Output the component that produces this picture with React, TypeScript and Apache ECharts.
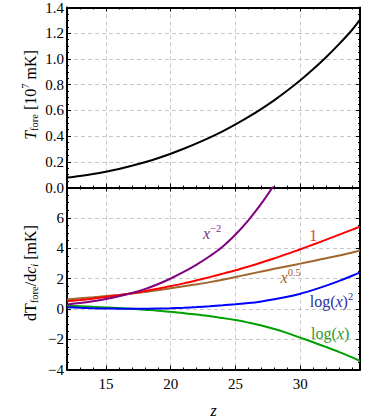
import React, { useEffect, useRef } from 'react';
import * as echarts from 'echarts';

// redshift samples
const Z = [12, 13, 14, 15, 16, 17, 18, 19, 20, 21, 22, 23, 24, 25, 26, 27, 28, 29, 30, 31, 32, 33, 34, 34.6];
// top panel: T_fore [10^7 mK]
const T_FORE = [0.077, 0.09, 0.105, 0.123, 0.144, 0.169, 0.197, 0.228, 0.263, 0.301, 0.343, 0.388, 0.437, 0.491, 0.549, 0.612, 0.68, 0.754, 0.834, 0.921, 1.015, 1.117, 1.227, 1.305];
// bottom panel: dT_fore/dc_i [mK]
const D_XM2 = [0.29, 0.38, 0.5, 0.65, 0.83, 1.04, 1.3, 1.62, 2.0, 2.43, 2.92, 3.47, 4.1, 4.9, 5.85, 6.95, 8.2];
const D_ONE = [0.5, 0.58, 0.67, 0.78, 0.9, 1.03, 1.17, 1.33, 1.5, 1.68, 1.88, 2.09, 2.31, 2.54, 2.79, 3.05, 3.33, 3.62, 3.93, 4.24, 4.56, 4.89, 5.22, 5.42];
const D_X05 = [0.62, 0.69, 0.76, 0.84, 0.92, 1.01, 1.11, 1.23, 1.36, 1.49, 1.62, 1.76, 1.92, 2.1, 2.28, 2.46, 2.64, 2.81, 2.98, 3.16, 3.34, 3.52, 3.72, 3.84];
const D_LOG2 = [0.11, 0.07, 0.04, 0.02, 0.01, 0.005, 0.005, 0.015, 0.035, 0.07, 0.115, 0.17, 0.23, 0.3, 0.38, 0.49, 0.63, 0.8, 1.0, 1.25, 1.53, 1.84, 2.18, 2.4];
const D_LOG = [0.2, 0.17, 0.13, 0.09, 0.05, 0.0, -0.06, -0.12, -0.2, -0.28, -0.37, -0.48, -0.6, -0.74, -0.91, -1.1, -1.33, -1.6, -1.9, -2.2, -2.52, -2.85, -3.2, -3.44];

const X_TICKS = [15, 20, 25, 30];
const X_MIN = 12;
const X_MAX = 34.6;
const TOP_Y = { min: 0, max: 1.4, interval: 0.2 };
const BOT_Y = { min: -4, max: 8, interval: 2 };

// curve label anchors in data coordinates
const LABELS = {
  xm2: [23.2, 4.98],
  one: [31.0, 4.85],
  x05: [29.25, 2.08],
  log2: [32.4, 0.5],
  log: [32.3, -1.6],
};

const FONT = 'Liberation Serif';

const pairs = (ys: number[]) => ys.map((y, i) => [Z[i], y]);

export default function App() {
  const ref = useRef<HTMLDivElement>(null);
  useEffect(() => {
    if (!ref.current) return;
    const chart = echarts.init(ref.current, null, { renderer: 'svg' });

    const splitLine = { show: true, lineStyle: { color: '#c8c8c8', type: [4, 3], width: 1 } };
    const axisLine = { show: true, onZero: false, lineStyle: { color: '#000', width: 2 } };
    const axisTick = { show: true, inside: true, length: 4, lineStyle: { color: '#000', width: 1 } };
    const minorTick = (n: number) => ({ show: true, splitNumber: n, length: 2, lineStyle: { color: '#000', width: 1 } });
    const labelBase = { fontFamily: FONT, fontSize: 15, color: '#000' };

    const xAxisBase = (gridIndex: number, position: string, showLabel: boolean, grid: boolean) => ({
      type: 'value',
      gridIndex,
      position,
      min: X_MIN,
      max: X_MAX,
      splitNumber: 5,
      axisLine,
      axisTick,
      minorTick: minorTick(5),
      splitLine: grid ? splitLine : { show: false },
      axisLabel: showLabel
        ? {
            ...labelBase,
            margin: 7,
            showMinLabel: false,
            showMaxLabel: false,
            formatter: (v: number) => (X_TICKS.includes(v) ? String(v) : ''),
          }
        : { show: false },
    });

    const fmtBot = (v: number) => (v === BOT_Y.max ? '' : v < 0 ? '\u2212' + Math.abs(v) : String(v));

    const yAxisBase = (gridIndex: number, position: string, r: any, showLabel: boolean, grid: boolean, fmt: any) => ({
      type: 'value',
      gridIndex,
      position,
      min: r.min,
      max: r.max,
      interval: r.interval,
      axisLine,
      axisTick,
      minorTick: minorTick(4),
      splitLine: grid ? splitLine : { show: false },
      axisLabel: showLabel ? { ...labelBase, margin: 3, formatter: fmt } : { show: false },
    });

    const rich = (color: string) => ({
      r: { fontFamily: FONT, fontSize: 16, color, lineHeight: 20 },
      i: { fontFamily: FONT, fontSize: 16, fontStyle: 'italic', color, lineHeight: 20 },
      p: { fontFamily: FONT, fontSize: 10.5, color, lineHeight: 10, verticalAlign: 'top' },
    });

    const mp = (coord: number[], text: string, color: string) => ({
      symbol: 'circle',
      symbolSize: 1,
      itemStyle: { color: 'rgba(0,0,0,0)' },
      label: { show: true, position: 'inside', formatter: text, color, rich: rich(color) },
      data: [{ coord }],
    });

    const line = (name: string, data: number[][], color: string, extra: any = {}) => ({
      type: 'line',
      name,
      xAxisIndex: 2,
      yAxisIndex: 2,
      data,
      symbol: 'none',
      smooth: 0.35,
      clip: true,
      lineStyle: { color, width: 2 },
      ...extra,
    });

    const titleRich = {
      r: { fontFamily: FONT, fontSize: 16, fill: '#000', lineHeight: 20 },
      i: { fontFamily: FONT, fontSize: 16, fontStyle: 'italic', fill: '#000', lineHeight: 20 },
      s: { fontFamily: FONT, fontSize: 10.5, fill: '#000', lineHeight: 12, verticalAlign: 'bottom' },
      si: { fontFamily: FONT, fontSize: 10.5, fontStyle: 'italic', fill: '#000', lineHeight: 12, verticalAlign: 'bottom' },
      p: { fontFamily: FONT, fontSize: 10.5, fill: '#000', lineHeight: 10, verticalAlign: 'top' },
    };

    chart.setOption({
      animation: false,
      grid: [
        { left: 67, top: 6, width: 293, height: 181.5, containLabel: false },
        { left: 67, top: 187.5, width: 293, height: 182, containLabel: false },
      ],
      xAxis: [
        xAxisBase(0, 'bottom', false, true),
        xAxisBase(0, 'top', false, false),
        xAxisBase(1, 'bottom', true, true),
        xAxisBase(1, 'top', false, false),
      ],
      yAxis: [
        yAxisBase(0, 'left', TOP_Y, true, true, (v: number) => v.toFixed(1)),
        yAxisBase(0, 'right', TOP_Y, false, false, null),
        yAxisBase(1, 'left', BOT_Y, true, true, fmtBot),
        yAxisBase(1, 'right', BOT_Y, false, false, null),
      ],
      series: [
        {
          type: 'line',
          name: 'T_fore',
          xAxisIndex: 0,
          yAxisIndex: 0,
          data: pairs(T_FORE),
          symbol: 'none',
          smooth: 0.35,
          lineStyle: { color: '#000', width: 2 },
        },
        line('log(x)', pairs(D_LOG), '#00a000', { markPoint: mp(LABELS.log, '{r|log(}{i|x}{r|)}', '#2f9a2f') }),
        line('log(x)^2', pairs(D_LOG2), '#0000ff', { markPoint: mp(LABELS.log2, '{r|log(}{i|x}{r|)}{p|2}', '#2e2e9c') }),
        line('x^0.5', pairs(D_X05), '#a0662e', { markPoint: mp(LABELS.x05, '{i|x}{p|0.5}', '#9a6030') }),
        line('1', pairs(D_ONE), '#ff0000', { markPoint: mp(LABELS.one, '{r|1}', '#f0384a') }),
        line('x^-2', pairs(D_XM2), '#800080', { markPoint: mp(LABELS.xm2, '{i|x}{p|\u22122}', '#7e2e8c') }),
      ],
      graphic: [
        {
          type: 'text',
          x: 30,
          y: 95,
          rotation: Math.PI / 2,
          style: {
            text: '{i|T}{s|fore}{r| [10}{p|7}{r| mK]}',
            rich: titleRich,
            align: 'center',
            verticalAlign: 'middle',
            fill: '#000',
            font: `16px "${FONT}"`,
          },
        },
        {
          type: 'text',
          x: 30,
          y: 273,
          rotation: Math.PI / 2,
          style: {
            text: '{r|dT}{s|fore}{r|/d}{i|c}{si|i}{r| [mK]}',
            rich: titleRich,
            align: 'center',
            verticalAlign: 'middle',
            fill: '#000',
            font: `16px "${FONT}"`,
          },
        },
        {
          type: 'text',
          x: 213.5,
          y: 410,
          style: {
            text: 'z',
            align: 'center',
            verticalAlign: 'middle',
            fill: '#000',
            font: `italic 16px "${FONT}"`,
          },
        },
      ],
    });
    return () => chart.dispose();
  }, []);
  return <div ref={ref} style={{ position: 'fixed', left: 0, top: 0, width: 382, height: 419, background: '#fff' }} />;
}
